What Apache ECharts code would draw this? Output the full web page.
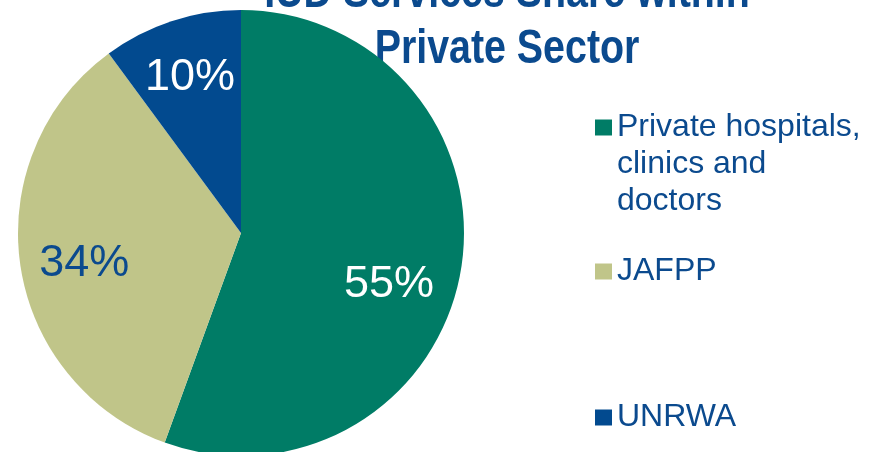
<!DOCTYPE html>
<html>
<head>
<meta charset="utf-8">
<script src="https://cdn.jsdelivr.net/npm/echarts@6/dist/echarts.min.js"></script>
<style>
  html, body { margin: 0; padding: 0; background: #fff; }
  #chart { width: 874px; height: 452px; }
</style>
</head>
<body>
<div id="chart"></div>
<script>
(function () {
    'use strict';
    // data
    var titleText = 'IUD Services Share within\nPrivate Sector';
    var categories = ['Private hospitals,\nclinics and\ndoctors', 'JAFPP', 'UNRWA'];
    var shares = [55, 34, 10];

    // styles
    var sliceColors = ['#007C66', '#C0C589', '#024A8F'];
    var labelColors = ['#ffffff', '#0B4A8E', '#ffffff'];
    var legendTops = [35, 253, 399];
    var labelNudge = [[-13, 23], [5, 7], [0, 0]];  // best-fit label placement of the original

    var BLUE = '#0B4A8E';
    var FONT = '"Liberation Sans", Arial, sans-serif';

    var chart = echarts.init(document.getElementById('chart'), null, { renderer: 'canvas' });

    var pieData = categories.map(function (name, i) {
        return { name: name, value: shares[i], itemStyle: { color: sliceColors[i] } };
    });
    var labelData = categories.map(function (name, i) {
        return {
            name: name, value: shares[i],
            label: { color: labelColors[i] }
        };
    });

    // one legend per item so each can sit at its own height;
    // multi-line names get blank lines on top so the marker lines up with the first line
    var legends = categories.map(function (name, i) {
        var lines = name.split('\n').length;
        var pad = new Array(lines).join('\n');
        return {
            data: [name],
            orient: 'vertical',
            left: 595,
            top: legendTops[i],
            padding: 0,
            itemWidth: 17,
            itemHeight: 16,
            icon: 'rect',
            selectedMode: false,
            formatter: function (n) { return pad + n; },
            textStyle: {
                fontFamily: FONT,
                fontSize: 32,
                lineHeight: 37,
                color: BLUE
            }
        };
    });

    var option = {
        backgroundColor: '#fff',
        animation: false,
        legend: legends,
        graphic: [{
            // title is set in a narrow bold face; squeeze the bold sans to match
            type: 'text',
            x: 507,
            y: -34,
            scaleX: 0.82,
            silent: true,
            style: {
                text: titleText,
                align: 'center',
                verticalAlign: 'top',
                fontFamily: FONT,
                fontWeight: 'bold',
                fontSize: 48,
                lineHeight: 56,
                fill: BLUE
            }
        }],
        series: [
            {
                type: 'pie',
                center: [241, 233],
                radius: [0, 223],
                startAngle: 90,
                clockwise: true,
                silent: true,
                label: { show: false },
                labelLine: { show: false },
                itemStyle: { borderWidth: 0 },
                emphasis: { disabled: true },
                data: pieData
            },
            {
                // transparent ring only used to place the percentage labels further out
                type: 'pie',
                center: [241, 233],
                radius: [98, 223],
                startAngle: 90,
                clockwise: true,
                silent: true,
                legendHoverLink: false,
                itemStyle: { color: 'rgba(0,0,0,0)', borderWidth: 0 },
                emphasis: { disabled: true },
                label: {
                    show: true,
                    position: 'inside',
                    fontFamily: FONT,
                    fontSize: 45,
                    formatter: function (p) { return p.value + '%'; }
                },
                labelLine: { show: false },
                labelLayout: function (p) {
                    var n = labelNudge[p.dataIndex];
                    return { dx: n[0], dy: n[1] };
                },
                data: labelData
            }
        ]
    };
    chart.setOption(option);
})();
</script>
</body>
</html>
